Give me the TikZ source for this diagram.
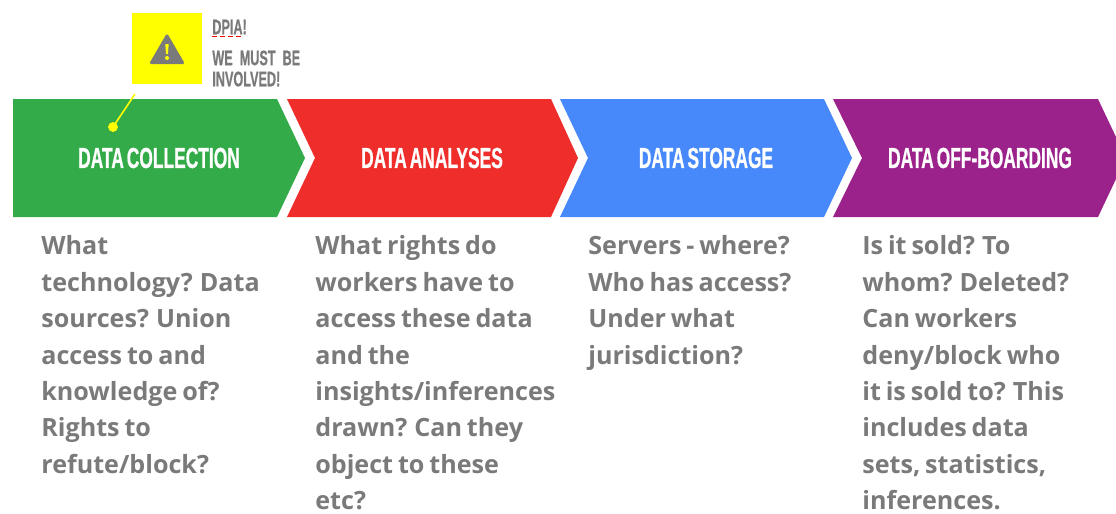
\documentclass[tikz,border=0pt]{standalone}
\usepackage{fontspec}
\setmainfont[WordSpace=0.75]{Open Sans}
\newfontfamily\headfont[FakeStretch=0.6,WordSpace=0.6,FakeBold=0.6]{Liberation Sans}
\usepackage{xcolor}
\usetikzlibrary{positioning}
\definecolor{chgreen}{HTML}{34AB49}
\definecolor{chred}{HTML}{EF2D2A}
\definecolor{chblue}{HTML}{4788FB}
\definecolor{chpurple}{HTML}{9C228B}
\definecolor{bodygray}{HTML}{7A7A7A}
\definecolor{warnyellow}{HTML}{FFFF00}
\tikzset{
  headlabel/.style={text=white,font=\headfont\bfseries\fontsize{16.5}{16.5}\selectfont,inner sep=0pt},
  bodytext/.style={text=bodygray,font=\bfseries\fontsize{14.3}{20.7}\selectfont,align=left,anchor=north west,inner sep=0pt},
  warntext/.style={text=bodygray,font=\headfont\bfseries\fontsize{12}{12}\selectfont,align=left,anchor=west,inner sep=0pt},
}
\begin{document}
\begin{tikzpicture}[x=0.02cm,y=-0.02cm]
\useasboundingbox (0,0) rectangle (1116,514);
\fill [chgreen] (13,99)--(277,99)--(305,158)--(277,217)--(13,217)--cycle;
\fill [chred] (287,99)--(551,99)--(578,158)--(551,217)--(287,217)--(315,158)--cycle;
\fill [chblue] (560,99)--(824,99)--(852,158)--(824,217)--(560,217)--(588,158)--cycle;
\fill [chpurple] (833,99)--(1098,99)--(1116,137)--(1116,179)--(1098,217)--(833,217)--(862,158)--cycle;

\node [headlabel] (collection) at (159,158) {DATA COLLECTION};
\node [headlabel] (analyses) at (432,158) {DATA ANALYSES};
\node [headlabel] (storage) at (706,158) {DATA STORAGE};
\node [headlabel] (offboarding) at (980,158) {DATA OFF-BOARDING};

\node [fill=warnyellow,minimum size=1.42cm,inner sep=0pt] (warnbox) at (167,48.5) {};
\fill [bodygray,rounded corners=1pt] (167,33)--(185,64)--(149,64)--cycle;
\fill [warnyellow] (165.3,44)--(168.7,44)--(168,54)--(166,54)--cycle;
\fill [warnyellow] (167,58) circle (2);

\node [warntext] (dpia) at (212,27) {DPIA!};
\node [warntext,text width=2cm] (involved) at (212,68.5) {WE MUST BE\\INVOLVED!};
\draw [red,dashed,line width=0.4pt,dash pattern=on 3pt off 1.5pt] (212,36)--(242,36);

\coordinate (linestart) at (135,94);
\coordinate (dot) at (113,127);
\draw [warnyellow,line width=0.9pt] (linestart)--(dot);
\filldraw [warnyellow] (dot) circle (4.5);

\node [bodytext] (q1) at (41,235.5) {What\\technology? Data\\sources? Union\\access to and\\knowledge of?\\Rights to\\refute/block?};
\node [bodytext] (q2) at (315,235.5) {What rights do\\workers have to\\access these data\\and the\\insights/inferences\\drawn? Can they\\object to these\\etc?};
\node [bodytext] (q3) at (588,235.5) {Servers - where?\\Who has access?\\Under what\\jurisdiction?};
\node [bodytext] (q4) at (862,235.5) {Is it sold? To\\whom? Deleted?\\Can workers\\deny/block who\\it is sold to? This\\includes data\\sets, statistics,\\inferences.};
\end{tikzpicture}
\end{document}
